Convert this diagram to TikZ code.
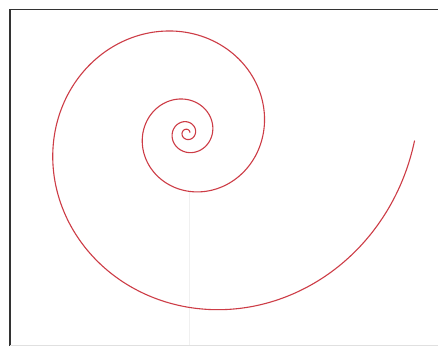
\documentclass[tikz,border=0pt]{standalone}
\begin{document}
\begin{tikzpicture}[x=1pt,y=1pt,
  framestyle/.style={line width=1.4pt, black!80},
  spiralstyle/.style={line width=1.1pt, color={rgb,255:red,205;green,60;blue,70}, line cap=round},
  faint/.style={line width=0.8pt, black!6}]
\useasboundingbox (0,0) rectangle (438,346);
\fill[white] (0,0) rectangle (438,346);
% frame
\draw[framestyle] (10,0) -- (10,336.5) -- (438,336.5);
\draw[line width=0.8pt, black!12] (10,0.6) -- (438,0.6);
% faint guide
\draw[faint] (189,154) -- (189,1);
% spiral
\draw[spiralstyle] plot[domain=-1070:358, samples=600, smooth]
  ({187 + 103.6*exp(ln(3)*(\x-100)/360)*cos(\x)},
   {213 + 103.6*exp(ln(3)*(\x-100)/360)*sin(\x)});
\end{tikzpicture}
\end{document}
